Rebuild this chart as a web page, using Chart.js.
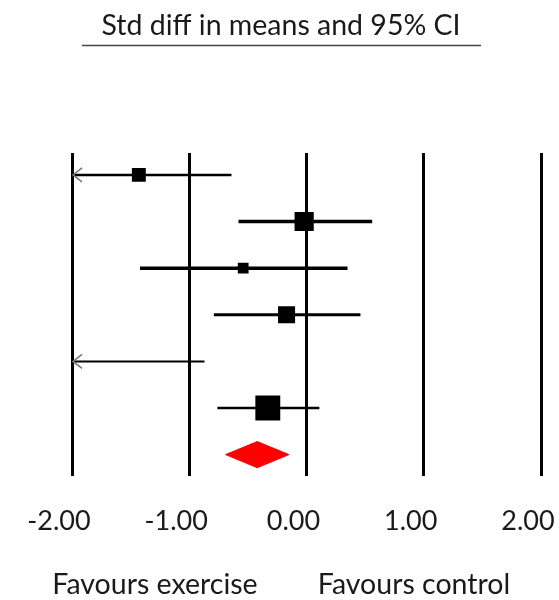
<!DOCTYPE html>
<html>
<head>
<meta charset="utf-8">
<script src="https://cdn.jsdelivr.net/npm/chart.js@4"></script>
<style>
  body { margin: 0; background: #fff; }
  #wrap { width: 559px; height: 600px; }
</style>
</head>
<body>
<div id="wrap"><canvas id="forestChart"></canvas></div>
<script>
// studies, top to bottom (std diff in means, 95% CI)
var estimates = [-1.43, -0.02, -0.54, -0.17, -2.40, -0.33];
var lowerCI = [-2.22, -0.58, -1.42, -0.79, -3.90, -0.76];
var upperCI = [-0.64, 0.56, 0.35, 0.46, -0.87, 0.11];
var weights = [10, 19, 6, 15, 4, 32]; // relative weight, %
// pooled result: lower, estimate, upper
var pooled = [-0.69, -0.42, -0.15];
var tickValues = [-2, -1, 0, 1, 2];
var titleText = "Std diff in means and 95% CI";
var favourLabels = ["Favours exercise", "Favours control"];

// styles
var lineWidths = [2.5, 3.5, 3.5, 3, 2, 2.5];
var diamondHalf = 0.28;
var fontFamily = "Lato, 'Open Sans', sans-serif";
var textColor = "#1a1a1a";

var datasets = [];

// CI lines
estimates.forEach(function (est, i) {
  datasets.push({
    type: "line",
    data: [{ x: lowerCI[i], y: i + 1 }, { x: upperCI[i], y: i + 1 }],
    borderColor: "#000",
    borderWidth: lineWidths[i],
    pointRadius: 0,
    clip: 0,
  });
});

// study squares, area follows weight
datasets.push({
  type: "scatter",
  data: estimates.map(function (est, i) { return { x: est, y: i + 1 }; }),
  pointStyle: "rect",
  pointRadius: weights.map(function (w) { return (4.4 * Math.sqrt(w)) / Math.SQRT2; }),
  backgroundColor: "#000",
  borderColor: "#000",
  borderWidth: 0,
  clip: 0,
});

// pooled diamond
var py = estimates.length + 1;
datasets.push({
  type: "line",
  data: [
    { x: pooled[0], y: py },
    { x: pooled[1], y: py - diamondHalf },
    { x: pooled[2], y: py },
    { x: pooled[1], y: py + diamondHalf },
    { x: pooled[0], y: py },
  ],
  fill: "shape",
  backgroundColor: "#ff0000",
  borderColor: "#ff0000",
  borderWidth: 1,
  pointRadius: 0,
  tension: 0,
  clip: 0,
});

var decorations = {
  id: "decorations",
  afterDatasetsDraw: function (chart) {
    var ctx = chart.ctx;
    var xs = chart.scales.x, ys = chart.scales.y;
    // arrows for CIs running off the left edge
    ctx.save();
    ctx.strokeStyle = "#777";
    ctx.lineWidth = 1.5;
    lowerCI.forEach(function (lo, i) {
      if (lo >= xs.min) return;
      var x = xs.getPixelForValue(xs.min) + 1;
      var y = ys.getPixelForValue(i + 1);
      ctx.beginPath();
      ctx.moveTo(x + 9, y - 7);
      ctx.lineTo(x, y);
      ctx.lineTo(x + 9, y + 7);
      ctx.stroke();
    });
    ctx.restore();
  },
  afterDraw: function (chart) {
    var ctx = chart.ctx;
    ctx.save();
    ctx.fillStyle = textColor;
    ctx.textAlign = "center";
    ctx.textBaseline = "middle";
    ctx.font = "28.5px " + fontFamily;
    ctx.fillText(titleText, 281, 26);
    ctx.strokeStyle = "#444";
    ctx.lineWidth = 1.5;
    ctx.beginPath();
    ctx.moveTo(82, 45.5);
    ctx.lineTo(481, 45.5);
    ctx.stroke();
    ctx.font = "28.5px " + fontFamily;
    ctx.fillText(favourLabels[0], 155, 585);
    ctx.fillText(favourLabels[1], 414, 585);
    ctx.restore();
  },
};

new Chart(document.getElementById("forestChart"), {
  type: "scatter",
  data: { datasets: datasets },
  options: {
    responsive: true,
    maintainAspectRatio: false,
    animation: false,
    layout: { padding: { left: 72, right: 18, top: 153, bottom: 34 } },
    plugins: {
      legend: { display: false },
      tooltip: { enabled: false },
    },
    scales: {
      x: {
        type: "linear",
        min: tickValues[0],
        max: tickValues[tickValues.length - 1],
        afterBuildTicks: function (scale) {
          scale.ticks = tickValues.map(function (v) { return { value: v }; });
        },
        afterFit: function (scale) {
          scale.paddingLeft = 0;
          scale.paddingRight = 0;
        },
        grid: { color: "#000", lineWidth: 3, drawTicks: false },
        border: { display: false },
        ticks: {
          padding: 29,
          labelOffset: -13,
          color: textColor,
          font: { family: fontFamily, size: 27 },
          callback: function (v) { return v.toFixed(2); },
        },
      },
      y: {
        type: "linear",
        display: false,
        reverse: true,
        min: 0.53,
        max: 7.45,
      },
    },
  },
  plugins: [decorations],
});
</script>
</body>
</html>
